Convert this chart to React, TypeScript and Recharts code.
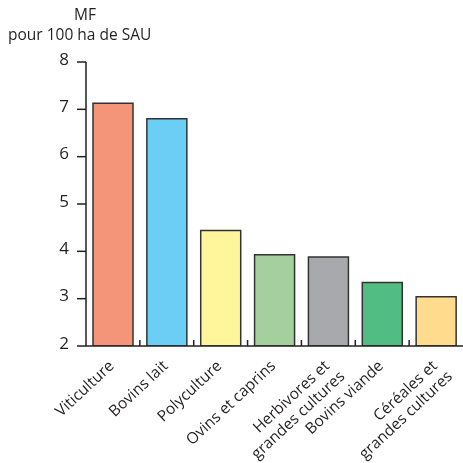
import React from 'react';
import { BarChart, Bar, XAxis, YAxis, Cell } from 'recharts';

const categories = [
  'Viticulture',
  'Bovins lait',
  'Polyculture',
  'Ovins et caprins',
  'Herbivores et\ngrandes cultures',
  'Bovins viande',
  'Céréales et\ngrandes cultures',
];
const values = [7.13, 6.8, 4.44, 3.93, 3.88, 3.34, 3.04];
const colors = ['#F4957A', '#6BCFF5', '#FFF59A', '#A3D09C', '#A8A9AD', '#52BD82', '#FEDB8D'];
const yTicks = [2, 3, 4, 5, 6, 7, 8];

const data = categories.map((name, i) => ({ name, value: values[i] }));

const FONT = '"Open Sans", sans-serif';
const INK = '#231f20';
const W = 463;
const H = 463;
const LEFT = 8;
const TOP = 62;
const Y_AXIS_W = 78;
const BAND = (W - LEFT - Y_AXIS_W) / categories.length;

const YTick = (props: any) => {
  const { x, y, payload } = props;
  return (
    <text x={x} y={y - 4} textAnchor="end" dominantBaseline="central" fontSize={17} fontFamily={FONT} fill={INK}>
      {payload.value}
    </text>
  );
};

const XTick = (props: any) => {
  const { x, y, payload, index } = props;
  const lines = String(payload.value).split('\n');
  return (
    <g transform={`translate(${x},${y})`}>
      {index > 0 && <line x1={-BAND / 2} y1={0} x2={-BAND / 2} y2={-6} stroke={INK} strokeWidth={1.5} />}
      <text transform="translate(2,21) rotate(-43)" textAnchor="end" fontSize={15.5} fontFamily={FONT} fill={INK}>
        {lines.map((l, i) => (
          <tspan key={i} x={i === 0 ? 0 : 4} dy={i === 0 ? 0 : 18}>
            {l}
          </tspan>
        ))}
      </text>
    </g>
  );
};

export default function App() {
  return (
    <div style={{ position: 'fixed', left: 0, top: 0, width: W, height: H, overflow: 'hidden', fontFamily: FONT, color: INK }}>
      <div style={{ position: 'absolute', left: 74, top: 6, fontSize: 15.5, lineHeight: '16px' }}>MF</div>
      <div style={{ position: 'absolute', left: 8, top: 26, fontSize: 15.5, lineHeight: '16px', whiteSpace: 'nowrap' }}>
        pour 100 ha de SAU
      </div>
      <BarChart
        width={W}
        height={H}
        data={data}
        margin={{ top: TOP, right: 0, bottom: 0, left: LEFT }}
        barCategoryGap={7}
      >
        <YAxis
          type="number"
          domain={[2, 8]}
          ticks={yTicks}
          width={Y_AXIS_W}
          allowDataOverflow
          axisLine={{ stroke: INK, strokeWidth: 1.5 }}
          tickLine={{ stroke: INK, strokeWidth: 1.5 }}
          tickSize={9}
          tickMargin={8}
          tick={<YTick />}
        />
        <XAxis
          dataKey="name"
          interval={0}
          height={H - TOP - 284}
          axisLine={{ stroke: INK, strokeWidth: 1.5 }}
          tickLine={false}
          tickSize={0}
          tickMargin={0}
          tick={<XTick />}
        />
        <Bar dataKey="value" stroke="#333" strokeWidth={1.5} isAnimationActive={false}>
          {data.map((d, i) => (
            <Cell key={d.name} fill={colors[i]} />
          ))}
        </Bar>
      </BarChart>
    </div>
  );
}
